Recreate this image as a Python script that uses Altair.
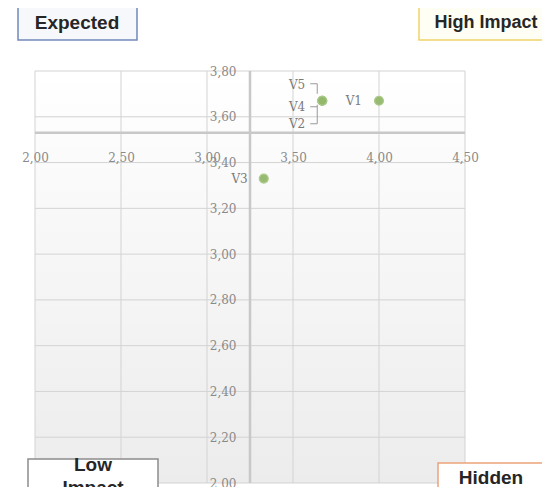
import altair as alt
import pandas as pd

# ---- data ----
labels = ["V1", "V2", "V3", "V4", "V5"]
x_vals = [4.00, 3.67, 3.33, 3.67, 3.67]
y_vals = [3.67, 3.67, 3.33, 3.67, 3.67]
x_ticks = [2.00, 2.50, 3.00, 3.50, 4.00, 4.50]
y_ticks = [2.00, 2.20, 2.40, 2.60, 2.80, 3.00, 3.20, 3.40, 3.60, 3.80]
x_divider = [3.25]
y_divider = [3.53]
quadrants = ["Expected", "High Impact", "Low\nImpact", "Hidden"]

W, H = 430, 412
xscale = alt.Scale(domain=[x_ticks[0], x_ticks[-1]], nice=False, zero=False)
yscale = alt.Scale(domain=[y_ticks[0], y_ticks[-1]], nice=False, zero=False)

lab_expr = "replace(format(datum.value, '.2f'), '.', ',')"
LABEL_FONT = "DejaVu Serif"
LABEL_COLOR = "#8a8a8a"
xaxis = alt.Axis(values=x_ticks, grid=False, domain=False, ticks=False, tickSize=0,
                 labelExpr=lab_expr, labelFont=LABEL_FONT, labelFontSize=12,
                 labelColor=LABEL_COLOR, labelBaseline="middle", labelPadding=-6,
                 labelFlush=False, labelOverlap=False, offset=-320, title=None, zindex=1)
yaxis = alt.Axis(values=y_ticks, grid=False, domain=False, ticks=False, tickSize=0,
                 labelExpr=lab_expr, labelFont=LABEL_FONT, labelFontSize=12,
                 labelColor=LABEL_COLOR, labelBaseline="middle", labelAlign="right",
                 labelPadding=14, labelFlush=False, labelOverlap=False, offset=-215,
                 title=None, zindex=1)

def X(f):
    return alt.X(f, type="quantitative", scale=xscale, axis=xaxis)

def Y(f):
    return alt.Y(f, type="quantitative", scale=yscale, axis=yaxis)

pts = pd.DataFrame({"label": labels, "x": x_vals, "y": y_vals})

grad = alt.LinearGradient(
    gradient="linear",
    stops=[alt.GradientStop(offset=0, color="#ffffff"), alt.GradientStop(offset=1, color="#ececec")],
    x1=0, x2=0, y1=0, y2=1,
)
bg = alt.Chart(pd.DataFrame({"x0": [x_ticks[0]], "x1": [x_ticks[-1]],
                             "y0": [y_ticks[0]], "y1": [y_ticks[-1]]})).mark_rect(
    fill=grad, strokeWidth=0).encode(x=X("x0"), x2="x1", y=Y("y0"), y2="y1")

grid_color = "#d3d3d3"
vgrid = alt.Chart(pd.DataFrame({"x": x_ticks})).mark_rule(color=grid_color, strokeWidth=1).encode(x=X("x"))
hgrid = alt.Chart(pd.DataFrame({"y": y_ticks})).mark_rule(color=grid_color, strokeWidth=1).encode(y=Y("y"))
vdiv = alt.Chart(pd.DataFrame({"x": x_divider})).mark_rule(color="#c8c8c8", strokeWidth=2.5).encode(x=X("x"))
hdiv = alt.Chart(pd.DataFrame({"y": y_divider})).mark_rule(color="#c8c8c8", strokeWidth=2.5).encode(y=Y("y"))

points = alt.Chart(pts).mark_point(filled=True, size=80, color="#93b86a", opacity=0.95,
                                   stroke="#a9c98a", strokeWidth=1.2).encode(x=X("x"), y=Y("y"))

# label offsets (style)
LABEL_OFFSETS = {"V1": (-17, 0), "V2": (-17, 23), "V3": (-16, 0), "V4": (-17, 6), "V5": (-17, -16)}
layers = [bg, vgrid, hgrid, vdiv, hdiv]
text_layers = []
for lab in labels:
    dx, dy = LABEL_OFFSETS[lab]
    text_layers.append(
        alt.Chart(pts[pts.label == lab]).mark_text(
            align="right", baseline="middle", dx=dx, dy=dy,
            font=LABEL_FONT, fontSize=12, color="#7a7a7a"
        ).encode(x=X("x"), y=Y("y"), text="label:N")
    )

# leader lines for the stacked labels (pixel offsets from the shared point)
LEADERS = [
    ("V5", (-12, -17), (-5, -17)),
    ("V5", (-5, -17), (-5, -7)),
    ("V4", (-12, 6), (-5, 6)),
    ("V2", (-12, 23), (-5, 23)),
    ("V2", (-5, 23), (-5, 4)),
]
leader_layers = []
for lab, (ax, ay), (bx, by) in LEADERS:
    leader_layers.append(
        alt.Chart(pts[pts.label == lab]).mark_rule(
            color="#9a9a9a", strokeWidth=1,
            xOffset=ax, x2Offset=bx, yOffset=ay, y2Offset=by
        ).encode(x=X("x"), x2="x", y=Y("y"), y2="y")
    )

# quadrant label boxes (style: pixel boxes around the plot area)
BOXES = {
    "Expected":    dict(box=(-17, 102, -66, -31), txt=(42, -48), size=19, stroke="#7388bb", fill="#f7f8fb"),
    "High Impact": dict(box=(384, 520, -66, -31), txt=(451, -48), size=18, stroke="#f0d46a", fill="#fffef4"),
    "Low\nImpact": dict(box=(-7, 123, 388, 430), txt=(58, 394), size=19, stroke="#8c8c8c", fill="#ffffff"),
    "Hidden":      dict(box=(403, 512, 392, 422), txt=(456, 407), size=19, stroke="#eba27a", fill="#ffffff"),
}
box_layers = []
for name in quadrants:
    s = BOXES[name]
    x1, x2, y1, y2 = s["box"]
    df = pd.DataFrame({"name": [name]})
    box_layers.append(
        alt.Chart(df).mark_rect(fill=s["fill"], stroke=s["stroke"], strokeWidth=1.5).encode(
            x=alt.value(x1), x2=alt.value(x2), y=alt.value(y1), y2=alt.value(y2))
    )
    box_layers.append(
        alt.Chart(df).mark_text(
            font="Liberation Sans", fontWeight="bold", fontSize=s["size"], color="#262626",
            align="center", baseline="middle", lineBreak="\n", lineHeight=23
        ).encode(x=alt.value(s["txt"][0]), y=alt.value(s["txt"][1]), text="name:N")
    )

chart = alt.layer(*layers, *leader_layers, points, *text_layers, *box_layers).properties(
    width=W, height=H,
    autosize=alt.AutoSizeParams(type="none"),
    padding={"left": 27, "top": 63, "right": 77, "bottom": 4},
    background="white",
).configure_view(stroke=None)

chart.save("out.html", embed_options={"renderer": "svg", "actions": False})
